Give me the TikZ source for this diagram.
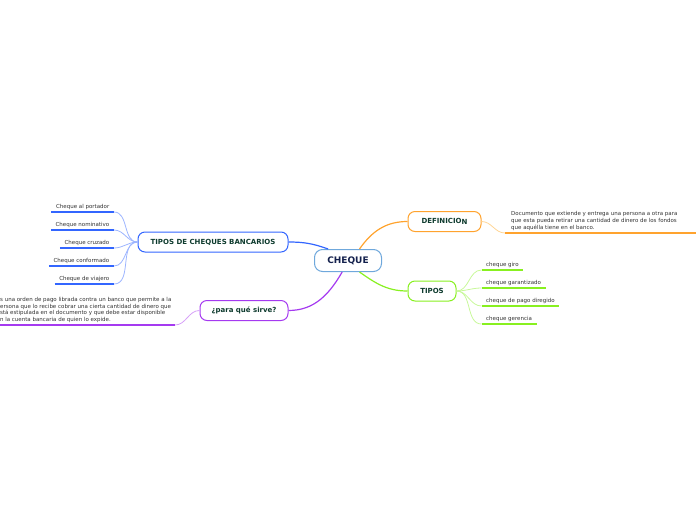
\documentclass[tikz,border=0pt]{standalone}
\usepackage{fontspec}
\setmainfont{DejaVu Sans}
\definecolor{cblue}{HTML}{3366FF}
\definecolor{cbluel}{HTML}{9DB5FF}
\definecolor{corange}{HTML}{FFA32E}
\definecolor{corangel}{HTML}{FFD595}
\definecolor{cgreen}{HTML}{88F020}
\definecolor{cgreenl}{HTML}{C8F89A}
\definecolor{cpurple}{HTML}{A53AF0}
\definecolor{cpurplel}{HTML}{D6A0F8}
\definecolor{cmain}{HTML}{6FA8DC}
\definecolor{ntext}{HTML}{0E3B2E}
\definecolor{mtext}{HTML}{14214D}
\definecolor{ltext}{HTML}{333333}
\begin{document}
\begin{tikzpicture}[x=1pt,y=-1pt,
  topic/.style={draw, rounded corners=7pt, fill=white, line width=1pt,
    font=\fontsize{7}{8}\selectfont\bfseries, text=ntext, inner sep=0pt, minimum height=20pt},
  leaf/.style={font=\fontsize{5.5}{6.8}\selectfont, text=ltext, inner xsep=4.5pt, inner ysep=2.2pt},
  leafL/.style={leaf, anchor=south east},
  leafR/.style={leaf, anchor=south west},
  uline/.style={line width=1.3pt},
  mainlink/.style={line width=1.2pt},
  sublink/.style={line width=0.8pt}]
\useasboundingbox (0,0) rectangle (696,520);

% central and topic nodes
\node[draw=cmain, fill=white, rounded corners=8pt, line width=1pt, minimum width=67pt, minimum height=22pt,
  inner sep=0pt, font=\fontsize{9}{10}\selectfont\bfseries, text=mtext] (cheque) at (348,260.5) {CHEQUE};
\node[topic, draw=cblue, minimum width=150pt] (tcb) at (213,242) {TIPOS DE CHEQUES BANCARIOS};
\node[topic, draw=corange, minimum width=73pt] (def) at (444.5,221.5) {DEFINICIO\raisebox{-0.8pt}{N}};
\node[topic, draw=cgreen, minimum width=48pt] (tipos) at (432,291) {TIPOS};
\node[topic, draw=cpurple, minimum width=88pt] (para) at (244,310.5) {¿para qué sirve?};

% main connectors
\draw[mainlink, cblue] (tcb.east) to[out=0, in=160] (cheque.150);
\draw[mainlink, corange] (cheque.45) to[out=55, in=180] (def.west);
\draw[mainlink, cgreen] (cheque.-45) to[out=-35, in=180] (tipos.west);
\draw[mainlink, cpurple] (cheque.-117) to[out=-120, in=0] (para.east);

% TIPOS DE CHEQUES BANCARIOS leaves
\node[leafL] (l1) at (114,212) {Cheque al portador};
\node[leafL] (l2) at (114,230) {Cheque nominativo};
\node[leafL] (l3) at (114,248) {Cheque cruzado};
\node[leafL] (l4) at (114,266) {Cheque conformado};
\node[leafL] (l5) at (114,284) {Cheque de viajero};
\foreach \n in {l1,l2,l3,l4,l5}{
  \draw[sublink, cbluel] (tcb.west) to[out=180, in=0] (\n.south east);
  \draw[uline, cblue] (\n.south west) -- (\n.south east);
}

% TIPOS leaves
\node[leafR] (r1) at (481.5,270) {cheque giro};
\node[leafR] (r2) at (481.5,288) {cheque garantizado};
\node[leafR] (r3) at (481.5,306) {cheque de pago diregido};
\node[leafR] (r4) at (481.5,324) {cheque gerencia};
\foreach \n in {r1,r2,r3,r4}{
  \draw[sublink, cgreenl] (tipos.east) to[out=0, in=180] (\n.south west);
  \draw[uline, cgreen] (\n.south west) -- (\n.south east);
}

% DEFINICION text
\node[leafR, align=left, inner xsep=6pt, font=\fontsize{5.5}{7}\selectfont] (deft) at (505,233)
  {Documento que extiende y entrega una persona a otra para\\
   que esta pueda retirar una cantidad de dinero de los fondos\\
   que aquélla tiene en el banco.};
\coordinate (defend) at (700,233);
\draw[sublink, corangel] (def.east) to[out=0, in=180] (deft.south west);
\draw[uline, corange] (deft.south west) -- (defend);

% para que sirve text
\node[leafR, align=left, inner xsep=0pt, font=\fontsize{5.5}{6.6}\selectfont] (parat) at (-3.5,325)
  {Es una orden de pago librada contra un banco que permite a la\\
   persona que lo recibe cobrar una cierta cantidad de dinero que\\
   está estipulada en el documento y que debe estar disponible\\
   en la cuenta bancaria de quien lo expide.};
\coordinate (paraend) at (175,325);
\draw[sublink, cpurplel] (para.west) to[out=180, in=0] (paraend);
\draw[uline, cpurple] (parat.south west) -- (paraend);
\end{tikzpicture}
\end{document}
